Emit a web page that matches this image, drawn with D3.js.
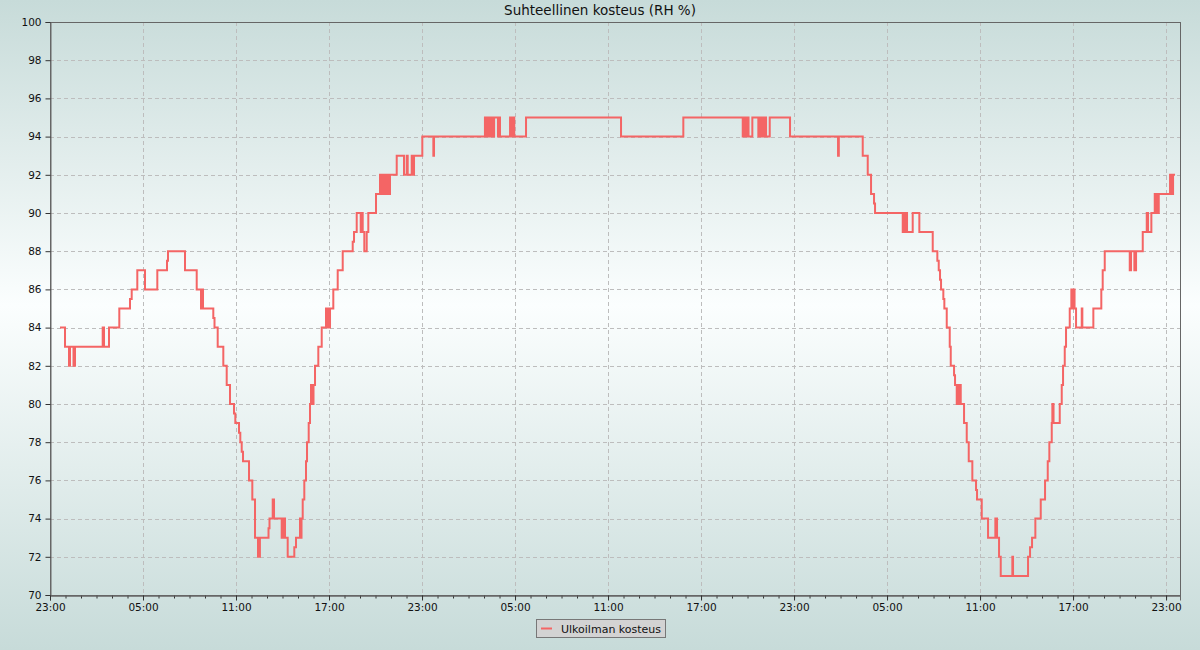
<!DOCTYPE html>
<html>
<head>
<meta charset="utf-8">
<script src="https://cdn.jsdelivr.net/npm/d3@7"></script>
<style>
  html, body { margin: 0; padding: 0; }
  svg { display: block; font-family: "DejaVu Sans", sans-serif; }
</style>
</head>
<body>
<svg id="chart" width="1200" height="650"></svg>
<script>
// ---- data ----
const chartTitle = "Suhteellinen kosteus (RH %)";
const seriesName = "Ulkoilman kosteus";
const startTime = new Date(2024, 0, 1, 23, 0, 0);
const endHours = 72.9;
const majorTickHours = [0, 6, 12, 18, 24, 30, 36, 42, 48, 54, 60, 66, 72];
const yTicks = [70, 72, 74, 76, 78, 80, 82, 84, 86, 88, 90, 92, 94, 96, 98, 100];
// hours since the first 23:00, and RH value from that moment (step data)
const stepHours = [
  0.645, 0.968, 1.226, 1.290, 1.516, 1.613, 3.400, 3.484, 3.806, 4.471,
  5.161, 5.271, 5.632, 6.129, 6.923, 7.548, 7.613, 8.710, 9.465, 9.742,
  9.806, 9.871, 10.535, 10.613, 10.819, 11.181, 11.400, 11.613, 11.871, 11.955,
  12.194, 12.277, 12.368, 12.452, 12.839, 13.052, 13.226, 13.419, 13.471, 13.503,
  13.542, 14.097, 14.161, 14.368, 14.452, 14.948, 15.000, 15.052, 15.110, 15.161,
  15.335, 15.761, 15.871, 16.129, 16.181, 16.226, 16.303, 16.406, 16.516, 16.581,
  16.690, 16.774, 16.839, 16.882, 16.922, 16.968, 17.000, 17.097, 17.310, 17.529,
  17.806, 17.871, 17.935, 18.000, 18.065, 18.277, 18.561, 18.884, 19.529, 19.613,
  19.787, 20.045, 20.110, 20.174, 20.277, 20.432, 20.535, 21.032, 21.290, 21.419,
  21.548, 21.645, 21.742, 21.839, 21.935, 22.368, 22.839, 23.013, 23.077, 23.335,
  23.419, 23.484, 24.019, 24.731, 24.774,
  28.06, 28.16, 28.26, 28.36, 28.45, 28.55, 28.65, 28.90, 28.95, 29.03,
  29.68, 29.77, 29.85, 29.95,
  30.710, 36.839, 40.858, 44.690, 44.806, 44.871, 45.000, 45.065, 45.310, 45.697,
  45.774, 45.839, 45.935, 46.000, 46.065, 46.194, 46.432, 47.742, 50.839, 50.890,
  52.432, 52.755, 52.968, 53.161, 53.226, 55.013, 55.097, 55.161, 55.226, 55.290,
  55.656, 56.084, 56.948, 57.245, 57.335, 57.419, 57.484, 57.632, 57.697, 57.852,
  58.045, 58.110, 58.323, 58.387, 58.497, 58.561, 58.626, 58.690, 58.755, 58.968,
  59.142, 59.271, 59.503, 59.742, 59.806, 60.110, 60.516, 60.987, 61.097, 61.226,
  61.335, 62.084, 62.129, 63.097, 63.226, 63.355, 63.568, 63.916, 64.194, 64.368,
  64.471, 64.626, 64.665, 64.742, 65.142, 65.271, 65.355, 65.465, 65.548, 65.787,
  65.890, 65.968, 66.032, 66.097, 66.194, 66.561, 66.600, 67.310, 67.823, 67.913,
  68.045, 69.658, 69.742, 69.955, 70.065, 70.497, 70.755, 70.839, 71.052, 71.271,
  71.335, 71.400, 71.465, 71.529, 72.258, 72.355, 72.452, 72.580
];
const stepValues = [
  84, 83, 82, 83, 82, 83, 84, 83, 84, 85,
  85.5, 86, 87, 86, 87, 87.5, 88, 87, 86, 85,
  86, 85, 84.5, 84, 83, 82, 81, 80, 79.5, 79,
  78.5, 78, 77.5, 77, 76, 75, 73, 72, 73, 72,
  73, 73.5, 74, 75, 74, 73, 74, 73, 74, 73,
  72, 72.5, 73, 74, 73, 74, 75, 76, 77, 78,
  79, 80, 81, 80, 81, 80, 81, 82, 83, 84,
  85, 84, 85, 84, 85, 86, 87, 88, 88.5, 89,
  90, 89, 90, 89, 88, 89, 90, 91, 92, 91,
  92, 91, 92, 91, 92, 93, 92, 93, 92, 93,
  92, 93, 94, 93, 94,
  95, 94, 95, 94, 95, 94, 95, 94, 95, 94,
  95, 94, 95, 94,
  95, 94, 95, 94, 95, 94, 95, 94, 95, 94,
  95, 94, 95, 94, 95, 94, 95, 94, 93, 94,
  93, 92, 91, 90.5, 90, 89, 90, 89, 90, 89,
  90, 89, 88, 87.5, 87, 86.5, 86, 85.5, 85, 84,
  83, 82, 81.5, 81, 80, 81, 80, 81, 80, 79,
  78, 77, 76, 75.5, 75, 74, 73, 74, 73, 72,
  71, 72, 71, 72, 72.5, 73, 74, 75, 76, 77,
  78, 79, 80, 79, 80, 81, 82, 83, 84, 85,
  86, 85, 86, 85, 84, 85, 84, 85, 86, 87,
  88, 87, 88, 87, 88, 89, 90, 89, 90, 91,
  90, 91, 90, 91, 92, 91, 92, 92
];

// ---- layout ----
const W = 1200, H = 650;
const M = { left: 50, right: 20, top: 22, bottom: 55 };
const svg = d3.select("#chart");

const defs = svg.append("defs");
const grad = defs.append("linearGradient").attr("id", "bg")
  .attr("x1", 0).attr("y1", 0).attr("x2", 0).attr("y2", 1);
grad.append("stop").attr("offset", "0%").attr("stop-color", "#c7dbd9");
grad.append("stop").attr("offset", "47%").attr("stop-color", "#fbfefe");
grad.append("stop").attr("offset", "100%").attr("stop-color", "#c7dbd9");
svg.append("rect").attr("width", W).attr("height", H).attr("fill", "url(#bg)");

const hourMs = 3600 * 1000;
const toDate = h => new Date(startTime.getTime() + h * hourMs);

const x = d3.scaleTime()
  .domain([startTime, toDate(endHours)])
  .range([M.left, W - M.right]);
const y = d3.scaleLinear().domain([70, 100]).range([H - M.bottom, M.top]);

// ticks anchored at the start time
const majorTicks = majorTickHours.map(toDate);
const minorTicks = d3.range(0, Math.floor(endHours) + 1, 1).map(toDate);

// grid
const grid = svg.append("g").attr("stroke", "#bdbdbd").attr("stroke-dasharray", "4,3").attr("stroke-width", 1);
grid.selectAll("line.h").data(yTicks.filter(v => v > 70 && v < 100)).join("line")
  .attr("x1", M.left).attr("x2", W - M.right)
  .attr("y1", d => Math.round(y(d)) + 0.5).attr("y2", d => Math.round(y(d)) + 0.5);
grid.selectAll("line.v").data(majorTicks.slice(1)).join("line")
  .attr("y1", M.top).attr("y2", H - M.bottom)
  .attr("x1", d => Math.round(x(d)) + 0.5).attr("x2", d => Math.round(x(d)) + 0.5);

// frame
svg.append("rect")
  .attr("x", M.left + 0.5).attr("y", M.top + 0.5)
  .attr("width", W - M.right - M.left).attr("height", H - M.bottom - M.top)
  .attr("fill", "none").attr("stroke", "#666").attr("stroke-width", 1);

// axes
const yAxis = svg.append("g").attr("transform", `translate(${M.left + 0.5},0)`)
  .call(d3.axisLeft(y).tickValues(yTicks).tickSize(5).tickPadding(4).tickFormat(d3.format("d")));
const xAxisMinor = svg.append("g").attr("transform", `translate(0,${H - M.bottom + 0.5})`)
  .call(d3.axisBottom(x).tickValues(minorTicks).tickSize(3).tickFormat(""));
const xAxis = svg.append("g").attr("transform", `translate(0,${H - M.bottom + 0.5})`)
  .call(d3.axisBottom(x).tickValues(majorTicks).tickSize(5).tickPadding(3).tickFormat(d3.timeFormat("%H:%M")));
[yAxis, xAxis, xAxisMinor].forEach(g => {
  g.select(".domain").attr("stroke", "#666");
  g.selectAll(".tick line").attr("stroke", "#333");
  g.selectAll("text").attr("fill", "#111").attr("font-size", 10.5)
    .attr("font-family", "DejaVu Sans, sans-serif");
});

// line
const data = stepHours.map((h, i) => ({ t: toDate(h), v: stepValues[i] }));
svg.append("path").datum(data)
  .attr("fill", "none").attr("stroke", "#f46565").attr("stroke-width", 2)
  .attr("d", d3.line().x(d => x(d.t)).y(d => y(d.v)).curve(d3.curveStepAfter));

// title
svg.append("text").attr("x", 600).attr("y", 15).attr("text-anchor", "middle")
  .attr("font-size", 13.5).attr("fill", "#111").text(chartTitle);

// legend
const lg = svg.append("g");
lg.append("rect").attr("x", 536.5).attr("y", 619.5).attr("width", 129).attr("height", 18)
  .attr("fill", "#d3d3d3").attr("stroke", "#777");
lg.append("line").attr("x1", 541).attr("x2", 552).attr("y1", 628.5).attr("y2", 628.5)
  .attr("stroke", "#f46565").attr("stroke-width", 2);
lg.append("text").attr("x", 561).attr("y", 632.5).attr("font-size", 11).attr("fill", "#111")
  .text(seriesName);
</script>
</body>
</html>
